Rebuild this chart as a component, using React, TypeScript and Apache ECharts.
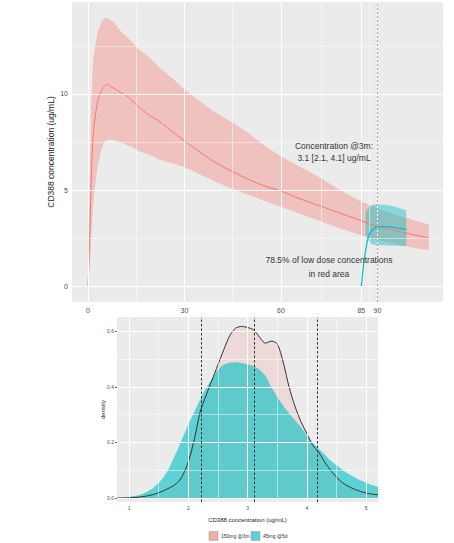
import React, { useEffect, useRef } from "react";
import * as echarts from "echarts";

// ---- Top panel: concentration over time (days) ----
const highT = [0, 0.5, 1, 1.5, 2, 3, 4, 5, 6, 7, 8, 10, 12, 14, 16, 19, 22, 25, 30, 35, 40, 45, 50, 55, 60, 65, 70, 75, 80, 85, 90, 95, 100, 106];
const highMean = [0, 2.3, 5.5, 7.6, 8.5, 9.6, 10.1, 10.4, 10.5, 10.4, 10.3, 10.1, 9.9, 9.6, 9.3, 8.9, 8.6, 8.2, 7.55, 6.95, 6.4, 5.95, 5.55, 5.2, 4.95, 4.6, 4.3, 4.0, 3.7, 3.4, 3.1, 2.9, 2.72, 2.5];
const highLo = [0, 0.8, 2.5, 4.0, 5.0, 6.2, 7.0, 7.5, 7.6, 7.62, 7.6, 7.5, 7.35, 7.2, 7.0, 6.85, 6.6, 6.45, 6.2, 5.8, 5.4, 5.05, 4.74, 4.43, 4.13, 3.82, 3.52, 3.2, 2.9, 2.65, 2.4, 2.2, 2.04, 1.86];
const highHi = [0, 5, 9.5, 11.5, 12.3, 13.2, 13.7, 13.95, 13.95, 13.85, 13.75, 13.3, 13.0, 12.65, 12.3, 11.9, 11.4, 11.0, 10.25, 9.6, 9.0, 8.5, 7.95, 7.3, 6.75, 6.3, 5.85, 5.35, 4.85, 4.4, 4.05, 3.75, 3.5, 3.2];

const lowT = [85, 85.5, 86, 86.5, 87, 88, 89, 90, 92, 94, 96, 98, 99];
const lowMean = [0, 0.8, 1.5, 2.0, 2.45, 2.85, 3.0, 3.08, 3.1, 3.08, 3.03, 2.98, 2.95];
const lowBandT = [86.3, 87, 88, 89, 90, 92, 94, 96, 98, 99];
const lowLo = [2.65, 2.4, 2.2, 2.15, 2.12, 2.12, 2.1, 2.1, 2.08, 2.08];
const lowHi = [3.8, 4.05, 4.2, 4.25, 4.25, 4.25, 4.2, 4.1, 4.0, 3.95];

const topXTicks = [0, 30, 60, 85, 90];
const topXMinor = [15, 45, 72.5, 87.5];
const topYTicks = [0, 5, 10];
const topYMinor = [2.5, 7.5, 12.5];
const timeMarker = 90;

// ---- Bottom panel: density of concentrations ----
const densX = [0.8, 1.0, 1.2, 1.4, 1.6, 1.8, 1.9, 2.0, 2.1, 2.2, 2.3, 2.4, 2.5, 2.6, 2.7, 2.8, 2.9, 3.0, 3.1, 3.2, 3.3, 3.4, 3.5, 3.6, 3.7, 3.8, 3.9, 4.0, 4.1, 4.2, 4.3, 4.4, 4.5, 4.6, 4.7, 4.8, 4.9, 5.0, 5.1, 5.2];
const densHigh = [0.0, 0.001, 0.004, 0.012, 0.028, 0.052, 0.08, 0.13, 0.21, 0.31, 0.37, 0.425, 0.48, 0.535, 0.585, 0.612, 0.618, 0.614, 0.606, 0.58, 0.558, 0.565, 0.555, 0.49, 0.4, 0.33, 0.275, 0.232, 0.19, 0.165, 0.13, 0.1, 0.075, 0.055, 0.042, 0.032, 0.024, 0.018, 0.014, 0.012];
const densLow = [0.0, 0.004, 0.013, 0.035, 0.08, 0.165, 0.215, 0.265, 0.31, 0.355, 0.397, 0.43, 0.462, 0.48, 0.487, 0.489, 0.486, 0.482, 0.475, 0.463, 0.44, 0.4, 0.365, 0.333, 0.305, 0.28, 0.255, 0.225, 0.198, 0.178, 0.157, 0.135, 0.118, 0.102, 0.087, 0.075, 0.064, 0.055, 0.047, 0.04];
const quantiles = [2.22, 3.11, 4.17];

const botXTicks = [1, 2, 3, 4, 5];
const botXMinor = [1.5, 2.5, 3.5, 4.5];
const botYTicks = [0, 0.2, 0.4, 0.6];
const botYMinor = [0.1, 0.3, 0.5];

const legendLabels = ["150mg @3m", "45mg @5d"];

const FONT = "Liberation Sans, Arial, sans-serif";

function gridLines(xs: number[], ys: number[], width: number) {
  return [
    ...xs.map((v) => ({ xAxis: v, lineStyle: { color: "#FFFFFF", width, type: "solid" as const } })),
    ...ys.map((v) => ({ yAxis: v, lineStyle: { color: "#FFFFFF", width, type: "solid" as const } })),
  ];
}

function bandSeries(ts: number[], lo: number[], hi: number[], fill: string, z: number) {
  return {
    type: "custom",
    xAxisIndex: 0,
    yAxisIndex: 0,
    z,
    silent: true,
    data: ts.map((t, i) => [t, lo[i], hi[i]]),
    encode: { x: 0, y: [1, 2] },
    renderItem: (params: any, api: any) => {
      if (params.dataIndex !== 0) return null;
      const pts: number[][] = [];
      for (let i = 0; i < ts.length; i++) pts.push(api.coord([ts[i], hi[i]]));
      for (let i = ts.length - 1; i >= 0; i--) pts.push(api.coord([ts[i], lo[i]]));
      return { type: "polygon", shape: { points: pts }, style: { fill } };
    },
  };
}

export default function App() {
  const ref = useRef<HTMLDivElement>(null);
  useEffect(() => {
    if (!ref.current) return;
    const chart = echarts.init(ref.current, null, { renderer: "svg" });
    const axisLabelTop = { fontSize: 7, color: "#4D4D4D", fontFamily: FONT };
    const axisLabelBot = { fontSize: 5, color: "#4D4D4D", fontFamily: FONT };
    const tick = { show: true, length: 2.5, lineStyle: { color: "#333", width: 0.8 } };
    const txt = (x: number, y: number, text: string) => ({
      type: "text", x, y, z: 10,
      style: { text, fontSize: 8.5, fill: "#333", align: "center", verticalAlign: "middle", fontFamily: FONT },
    });
    chart.setOption({
      animation: false,
      backgroundColor: "#FFFFFF",
      textStyle: { fontFamily: FONT },
      grid: [
        { left: 72, top: 2, width: 371, height: 300, show: true, backgroundColor: "#EBEBEB", borderWidth: 0 },
        { left: 117, top: 317, width: 261, height: 185, show: true, backgroundColor: "#EBEBEB", borderWidth: 0 },
      ],
      xAxis: [
        {
          type: "value", gridIndex: 0, min: -4.97, max: 110.4,
          axisLine: { show: false },
          axisTick: { ...tick, customValues: topXTicks },
          axisLabel: { ...axisLabelTop, margin: 5, customValues: topXTicks },
          splitLine: { show: false },
        },
        {
          type: "value", gridIndex: 1, min: 0.797, max: 5.2,
          axisLine: { show: false },
          axisTick: { ...tick, length: 2, customValues: botXTicks },
          axisLabel: { ...axisLabelBot, margin: 3, customValues: botXTicks },
          splitLine: { show: false },
          name: "CD388 concentration (ug/mL)", nameLocation: "middle", nameGap: 15, nameMoveOverlap: false,
          nameTextStyle: { fontSize: 6, color: "#222", fontFamily: FONT },
        },
      ],
      yAxis: [
        {
          type: "value", gridIndex: 0, min: -0.83, max: 14.79,
          axisLine: { show: false },
          axisTick: { ...tick, customValues: topYTicks },
          axisLabel: { ...axisLabelTop, margin: 4, customValues: topYTicks },
          splitLine: { show: false },
          name: "CD388 concentration (ug/mL)", nameLocation: "middle", nameGap: 16.5, nameMoveOverlap: false,
          nameTextStyle: { fontSize: 8.5, color: "#222", fontFamily: FONT },
        },
        {
          type: "value", gridIndex: 1, min: -0.0144, max: 0.652,
          axisLine: { show: false },
          axisTick: { ...tick, length: 2, customValues: botYTicks },
          axisLabel: { ...axisLabelBot, margin: 3, customValues: botYTicks, formatter: (v: number) => v.toFixed(1) },
          splitLine: { show: false },
          name: "density", nameLocation: "middle", nameGap: 11, nameMoveOverlap: false,
          nameTextStyle: { fontSize: 6, color: "#222", fontFamily: FONT },
        },
      ],
      series: [
        {
          type: "line", xAxisIndex: 0, yAxisIndex: 0, data: [], z: 1, silent: true,
          markLine: {
            silent: true, symbol: ["none", "none"], label: { show: false },
            data: [...gridLines(topXMinor, topYMinor, 0.5), ...gridLines(topXTicks, topYTicks, 1)],
          },
        },
        {
          type: "line", xAxisIndex: 1, yAxisIndex: 1, data: [], z: 1, silent: true,
          markLine: {
            silent: true, symbol: ["none", "none"], label: { show: false },
            data: [...gridLines(botXMinor, botYMinor, 0.5), ...gridLines(botXTicks, botYTicks, 1)],
          },
        },
        bandSeries(highT, highLo, highHi, "rgba(248,118,109,0.35)", 2),
        bandSeries(lowBandT, lowLo, lowHi, "rgba(0,191,196,0.42)", 3),
        {
          type: "line", xAxisIndex: 0, yAxisIndex: 0, z: 4, silent: true,
          data: highT.map((t, i) => [t, highMean[i]]),
          showSymbol: false, smooth: 0.25,
          lineStyle: { color: "#F8766D", width: 1 },
        },
        {
          type: "line", xAxisIndex: 0, yAxisIndex: 0, z: 5, silent: true,
          data: lowT.map((t, i) => [t, lowMean[i]]),
          showSymbol: false, smooth: 0.25,
          lineStyle: { color: "#00BFC4", width: 1.2 },
          markLine: {
            silent: true, symbol: ["none", "none"], label: { show: false },
            lineStyle: { color: "#A8A8A8", width: 1, type: [2, 2] },
            data: [{ xAxis: timeMarker }],
          },
        },
        {
          type: "line", xAxisIndex: 1, yAxisIndex: 1, z: 2, silent: true,
          data: densX.map((x, i) => [x, densHigh[i]]),
          showSymbol: false, smooth: 0.3,
          lineStyle: { width: 0 },
          areaStyle: { color: "rgba(248,118,109,0.15)", opacity: 1 },
        },
        {
          type: "line", xAxisIndex: 1, yAxisIndex: 1, z: 3, silent: true,
          data: densX.map((x, i) => [x, densLow[i]]),
          showSymbol: false, smooth: 0.3,
          lineStyle: { width: 0 },
          areaStyle: { color: "rgba(0,191,196,0.6)", opacity: 1 },
        },
        {
          type: "line", xAxisIndex: 1, yAxisIndex: 1, z: 4, silent: true,
          data: densX.map((x, i) => [x, densHigh[i]]),
          showSymbol: false, smooth: 0.3,
          lineStyle: { color: "#333333", width: 1 },
          markLine: {
            silent: true, symbol: ["none", "none"], label: { show: false },
            lineStyle: { color: "#333333", width: 1, type: [2.5, 2] },
            data: quantiles.map((q) => ({ xAxis: q })),
          },
        },
      ],
      graphic: [
        txt(334, 146, "Concentration @3m:"),
        txt(334, 157.5, "3.1 [2.1, 4.1] ug/mL"),
        txt(329, 260, "78.5% of low dose concentrations"),
        txt(329, 274, "in red area"),
        { type: "rect", z: 10, shape: { x: 209, y: 531.5, width: 9, height: 9 }, style: { fill: "#F2ACA6", stroke: "#9A9A9A", lineWidth: 0.5 } },
        { type: "text", z: 10, x: 221, y: 536, style: { text: legendLabels[0], fontSize: 5, fill: "#333", verticalAlign: "middle", fontFamily: FONT } },
        { type: "rect", z: 10, shape: { x: 251, y: 531.5, width: 9, height: 9 }, style: { fill: "#5FCFD1", stroke: "#9A9A9A", lineWidth: 0.5 } },
        { type: "text", z: 10, x: 263, y: 536, style: { text: legendLabels[1], fontSize: 5, fill: "#333", verticalAlign: "middle", fontFamily: FONT } },
      ],
    });
    return () => chart.dispose();
  }, []);
  return <div ref={ref} style={{ position: "fixed", left: 0, top: 0, width: 454, height: 543 }} />;
}
